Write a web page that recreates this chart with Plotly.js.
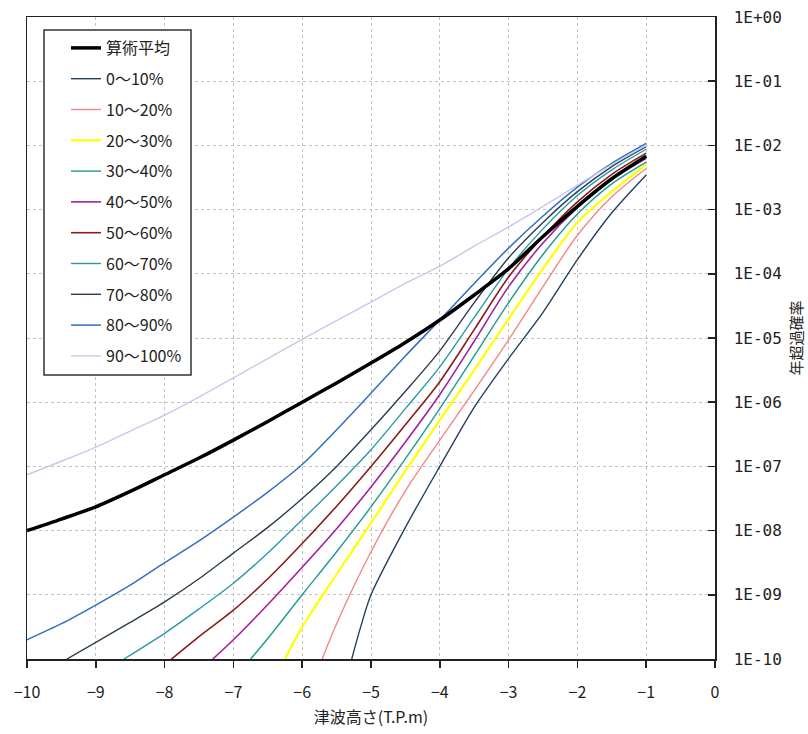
<!DOCTYPE html>
<html>
<head>
<meta charset="utf-8">
<script src="https://cdn.plot.ly/plotly-3.0.1.min.js"></script>
<style>html,body{margin:0;padding:0;background:#fff;}#chart{width:808px;height:734px;}</style>
</head>
<body>
<div id="chart"></div>
<script>
// Series names (legend labels)
const seriesNames = ["算術平均","0～10%","10～20%","20～30%","30～40%","40～50%","50～60%","60～70%","70～80%","80～90%","90～100%"];

// x: tsunami height (T.P.m); e: log10 of annual exceedance probability
const meanX   = [-10,-9.5,-9,-8.5,-8,-7.5,-7,-6.5,-6,-5.5,-5,-4.5,-4,-3.5,-3,-2.5,-2,-1.5,-1];
const meanE   = [-8.0,-7.82,-7.63,-7.39,-7.13,-6.87,-6.59,-6.30,-6.0,-5.70,-5.39,-5.07,-4.72,-4.33,-3.92,-3.42,-2.95,-2.52,-2.17];

const p0X  = [-5.28,-5.15,-5,-4.5,-4,-3.5,-3,-2.5,-2,-1.5,-1];
const p0E  = [-10,-9.5,-9.0,-7.95,-7.0,-6.08,-5.32,-4.60,-3.78,-3.05,-2.46];

const p10X = [-5.71,-5.5,-5,-4.5,-4,-3.5,-3,-2.5,-2,-1.5,-1];
const p10E = [-10,-9.45,-8.33,-7.38,-6.59,-5.82,-5.03,-4.20,-3.40,-2.80,-2.36];

const p20X = [-6.25,-6,-5.5,-5,-4.5,-4,-3.5,-3,-2.5,-2,-1.5,-1];
const p20E = [-10,-9.5,-8.68,-7.88,-7.07,-6.28,-5.50,-4.70,-3.92,-3.20,-2.72,-2.30];

const p30X = [-6.75,-6.5,-6,-5.5,-5,-4.5,-4,-3.5,-3,-2.5,-2,-1.5,-1];
const p30E = [-10,-9.68,-9.0,-8.33,-7.63,-6.88,-6.10,-5.28,-4.45,-3.70,-3.07,-2.60,-2.26];

const p40X = [-7.3,-7,-6.5,-6,-5.5,-5,-4.5,-4,-3.5,-3,-2.5,-2,-1.5,-1];
const p40E = [-10,-9.7,-9.15,-8.57,-7.97,-7.32,-6.62,-5.88,-5.05,-4.20,-3.52,-2.97,-2.53,-2.20];

const p50X = [-7.9,-7.5,-7,-6.5,-6,-5.5,-5,-4.5,-4,-3.5,-3,-2.5,-2,-1.5,-1];
const p50E = [-10,-9.65,-9.24,-8.75,-8.20,-7.62,-7.00,-6.35,-5.68,-4.87,-4.05,-3.42,-2.88,-2.45,-2.12];

const p60X = [-8.59,-8,-7.5,-7,-6.5,-6,-5.5,-5,-4.5,-4,-3.5,-3,-2.5,-2,-1.5,-1];
const p60E = [-10,-9.6,-9.22,-8.82,-8.35,-7.83,-7.30,-6.74,-6.10,-5.45,-4.68,-3.92,-3.30,-2.78,-2.38,-2.06];

const p70X = [-9.42,-9,-8.5,-8,-7.5,-7,-6.5,-6,-5.5,-5,-4.5,-4,-3.5,-3,-2.5,-2,-1.5,-1];
const p70E = [-10,-9.74,-9.43,-9.11,-8.75,-8.35,-7.95,-7.50,-7.00,-6.43,-5.83,-5.20,-4.45,-3.75,-3.20,-2.72,-2.33,-2.02];

const p80X = [-10,-9.5,-9,-8.5,-8,-7.5,-7,-6.5,-6,-5.5,-5,-4.5,-4,-3.5,-3,-2.5,-2,-1.5,-1];
const p80E = [-9.70,-9.45,-9.16,-8.85,-8.50,-8.16,-7.79,-7.40,-6.97,-6.43,-5.86,-5.28,-4.72,-4.15,-3.60,-3.10,-2.65,-2.28,-1.97];

const p90X = [-10,-9.5,-9,-8.5,-8,-7.5,-7,-6.5,-6,-5.5,-5,-4.5,-4,-3.5,-3,-2.5,-2,-1.5,-1];
const p90E = [-7.13,-6.92,-6.70,-6.45,-6.20,-5.92,-5.62,-5.32,-5.02,-4.73,-4.44,-4.15,-3.88,-3.57,-3.27,-2.95,-2.62,-2.30,-2.0];

// Axis ticks
const xTicks = [-10,-9,-8,-7,-6,-5,-4,-3,-2,-1,0];
const yTickVals = [1e-10,1e-9,1e-8,1e-7,1e-6,1e-5,1e-4,1e-3,1e-2,1e-1,1];
const yTickText = ["1E-10","1E-09","1E-08","1E-07","1E-06","1E-05","1E-04","1E-03","1E-02","1E-01","1E+00"];

const colors = ["#000000","#24405f","#f0888a","#ffff00","#1f9a8c","#a0229e","#8a1c1c","#2a9aa6","#2c3d4f","#2f6fc4","#c9c8ea"];
const widths = [3.5,1.4,1.4,2.2,1.4,1.6,1.6,1.4,1.4,1.5,1.4];

const xs = [meanX,p0X,p10X,p20X,p30X,p40X,p50X,p60X,p70X,p80X,p90X];
const es = [meanE,p0E,p10E,p20E,p30E,p40E,p50E,p60E,p70E,p80E,p90E];

const font = "'Noto Sans CJK JP', 'Noto Sans', sans-serif";

const traces = [];
// draw percentiles first, mean on top
for (let i = 1; i < seriesNames.length; i++) {
  traces.push({
    type: 'scatter', mode: 'lines', name: seriesNames[i],
    x: xs[i], y: es[i].map(v => Math.pow(10, v)),
    line: {color: colors[i], width: widths[i], shape: 'spline', smoothing: 0.8},
    legendgroup: 'g' + i, legendrank: i + 1, hoverinfo: 'skip'
  });
}
traces.push({
  type: 'scatter', mode: 'lines', name: seriesNames[0],
  x: xs[0], y: es[0].map(v => Math.pow(10, v)),
  line: {color: colors[0], width: widths[0], shape: 'spline', smoothing: 0.8},
  legendgroup: 'g0', legendrank: 1, hoverinfo: 'skip'
});

const L = 27, R = 715, T = 17, B = 659, W = 808, H = 734;
const px = v => (v - L) / (R - L);
const py = v => (B - v) / (B - T);

const layout = {
  width: W, height: H,
  margin: {l: L, r: W - R, t: T, b: H - B, pad: 0},
  paper_bgcolor: '#fff', plot_bgcolor: '#fff',
  font: {family: font, size: 14, color: '#222'},
  showlegend: true,
  legend: {
    x: px(66), y: py(31), xanchor: 'left', yanchor: 'top',
    bgcolor: 'rgba(0,0,0,0)', borderwidth: 0,
    traceorder: 'grouped', tracegroupgap: 7,
    font: {family: font, size: 16, color: '#222'}
  },
  shapes: [{
    type: 'rect', xref: 'paper', yref: 'paper', layer: 'above',
    x0: px(44), x1: px(191), y0: py(375), y1: py(30),
    fillcolor: '#fff', line: {color: '#333', width: 1.5}
  }],
  xaxis: {
    range: [-10, 0], tickvals: xTicks, ticks: 'outside', ticklen: 7, tickwidth: 1.5, tickcolor: '#222',
    showline: true, linecolor: '#222', linewidth: 1.5, mirror: true,
    showgrid: true, gridcolor: '#c2c2c2', griddash: 'dot', gridwidth: 1,
    zeroline: false, ticklabelstandoff: 11,
    tickfont: {family: font, size: 16, color: '#222'},
    title: {text: '津波高さ(T.P.m)', font: {family: font, size: 16, color: '#222'}, standoff: 10}
  },
  yaxis: {
    type: 'log', range: [-10, 0], side: 'right',
    tickvals: yTickVals, ticktext: yTickText,
    ticks: 'inside', ticklen: 7, tickwidth: 1.5, tickcolor: '#222',
    showline: true, linecolor: '#222', linewidth: 1.5, mirror: true,
    showgrid: true, gridcolor: '#c2c2c2', griddash: 'dot', gridwidth: 1,
    zeroline: false, ticklabelstandoff: 14,
    tickfont: {family: "'DejaVu Sans Mono', monospace", size: 16, color: '#222'},
    title: {text: '年超過確率', font: {family: font, size: 15, color: '#222'}, standoff: 10}
  }
};

Plotly.newPlot('chart', traces, layout, {staticPlot: true, displayModeBar: false});
</script>
</body>
</html>
